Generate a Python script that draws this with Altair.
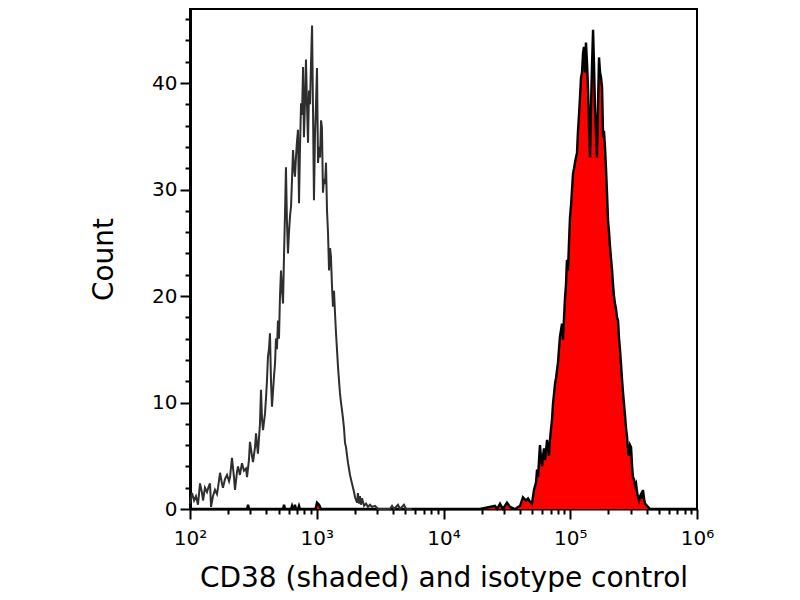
import altair as alt
import pandas as pd

# Isotype control histogram (log10 of fluorescence, count)
iso_log = [2.000, 2.016, 2.032, 2.047, 2.063, 2.079, 2.095, 2.103, 2.118, 2.134,
           2.150, 2.158, 2.166, 2.181, 2.197, 2.213, 2.221, 2.237, 2.252, 2.260,
           2.276, 2.292, 2.308, 2.316, 2.331, 2.347, 2.355, 2.371, 2.379, 2.394,
           2.410, 2.426, 2.442, 2.450, 2.465, 2.473, 2.489, 2.497, 2.513, 2.521,
           2.529, 2.536, 2.552, 2.560, 2.568, 2.576, 2.592, 2.600, 2.607, 2.615,
           2.623, 2.631, 2.639, 2.647, 2.663, 2.671, 2.678, 2.686, 2.694, 2.702,
           2.710, 2.718, 2.726, 2.734, 2.742, 2.750, 2.757, 2.765, 2.773, 2.781,
           2.789, 2.797, 2.805, 2.813, 2.821, 2.828, 2.836, 2.844, 2.852, 2.860,
           2.868, 2.876, 2.884, 2.892, 2.899, 2.907, 2.915, 2.923, 2.931, 2.939,
           2.947, 2.955, 2.963, 2.970, 2.978, 2.986, 2.994, 3.002, 3.010, 3.018,
           3.026, 3.034, 3.041, 3.049, 3.057, 3.065, 3.073, 3.081, 3.089, 3.097,
           3.105, 3.112, 3.120, 3.128, 3.136, 3.144, 3.152, 3.160, 3.168, 3.176,
           3.183, 3.191, 3.199, 3.207, 3.215, 3.223, 3.231, 3.239, 3.247, 3.254,
           3.262, 3.278, 3.294, 3.302, 3.318, 3.325, 3.333, 3.341, 3.349, 3.357,
           3.373, 3.389, 3.404, 3.420, 3.436, 3.460, 3.483, 3.578, 3.594, 3.610,
           3.641, 3.657, 3.688, 3.704, 3.750]
iso_count = [0.5, 1.5, 0.8, 1.2, 0.4, 2.4, 1.5, 0.8, 2.0, 1.6,
             2.2, 2.4, 0.2, 1.2, 1.8, 1.4, 2.0, 3.4, 2.4, 2.0,
             2.8, 3.2, 2.6, 3.0, 4.8, 3.0, 1.8, 3.5, 4.0, 3.2,
             4.3, 3.6, 3.8, 3.0, 4.6, 6.3, 5.0, 4.4, 5.8, 7.1,
             6.0, 5.2, 8.0, 11.2, 8.5, 7.4, 9.0, 10.5, 12.0, 14.3,
             15.0, 16.5, 12.0, 9.6, 12.5, 13.7, 16.0, 15.0, 17.7, 16.0,
             20.0, 22.4, 20.5, 19.3, 24.0, 28.0, 32.1, 27.0, 24.0, 26.0,
             27.5, 28.4, 31.0, 33.7, 32.0, 31.2, 33.0, 34.5, 35.6, 28.7,
             34.0, 38.1, 37.0, 41.5, 34.9, 38.0, 42.2, 38.0, 34.4, 39.3,
             38.0, 42.0, 45.4, 38.0, 29.0, 35.0, 38.0, 41.4, 32.5, 34.0,
             33.0, 36.5, 35.8, 29.7, 31.0, 30.5, 32.5, 28.0, 25.9, 22.4,
             24.5, 23.7, 21.0, 19.0, 20.5, 18.4, 16.5, 14.9, 13.3, 12.0,
             10.9, 10.0, 9.3, 8.5, 7.6, 6.2, 5.8, 5.0, 4.3, 3.8,
             3.2, 2.4, 1.6, 1.1, 0.6, 1.5, 0.5, 1.2, 0.4, 1.0,
             0.3, 0.5, 0.2, 0.4, 0.2, 0.3, 0.0, 0.0, 0.3, 0.0,
             0.4, 0.0, 0.4, 0.0, 0.0]

# CD38 stained histogram (log10 of fluorescence, count)
cd38_log = [2.000, 2.450, 2.458, 2.466, 2.734, 2.742, 2.750, 2.797, 2.805, 2.813,
            2.821, 2.828, 2.836, 2.852, 2.860, 2.868, 2.990, 3.002, 3.018, 3.034,
            4.288, 4.406, 4.422, 4.446, 4.469, 4.501, 4.525, 4.564, 4.604, 4.627,
            4.651, 4.667, 4.682, 4.698, 4.714, 4.730, 4.738, 4.746, 4.753, 4.761,
            4.769, 4.777, 4.785, 4.793, 4.801, 4.809, 4.817, 4.824, 4.832, 4.840,
            4.848, 4.856, 4.864, 4.872, 4.880, 4.888, 4.895, 4.903, 4.911, 4.919,
            4.927, 4.935, 4.943, 4.951, 4.959, 4.966, 4.974, 4.982, 4.990, 4.998,
            5.006, 5.014, 5.022, 5.030, 5.037, 5.045, 5.053, 5.061, 5.069, 5.077,
            5.085, 5.093, 5.101, 5.108, 5.116, 5.124, 5.132, 5.140, 5.148, 5.156,
            5.164, 5.172, 5.180, 5.187, 5.195, 5.203, 5.211, 5.219, 5.227, 5.235,
            5.243, 5.251, 5.259, 5.266, 5.274, 5.282, 5.290, 5.298, 5.306, 5.314,
            5.322, 5.330, 5.338, 5.345, 5.353, 5.361, 5.369, 5.377, 5.385, 5.393,
            5.401, 5.409, 5.416, 5.424, 5.432, 5.440, 5.448, 5.456, 5.464, 5.472,
            5.480, 5.488, 5.495, 5.503, 5.511, 5.519, 5.527, 5.535, 5.543, 5.551,
            5.559, 5.567, 5.574, 5.582, 5.590, 5.606, 5.629, 6.000]
cd38_count = [0.0, 0.0, 0.4, 0.0, 0.0, 0.4, 0.0, 0.0, 0.3, 0.0,
              0.0, 0.4, 0.0, 0.0, 0.3, 0.0, 0.0, 0.6, 0.4, 0.0,
              0.0, 0.3, 0.0, 0.5, 0.0, 0.6, 0.2, 0.0, 0.3, 1.1,
              0.8, 1.0, 0.7, 0.5, 1.8, 2.5, 3.7, 3.0, 4.5, 6.0,
              4.8, 4.0, 5.0, 5.7, 4.6, 5.5, 6.5, 5.8, 5.0, 6.5,
              7.5, 8.4, 9.9, 10.8, 11.8, 12.3, 13.0, 13.7, 15.0, 16.2,
              16.8, 17.4, 15.9, 18.0, 19.9, 21.0, 23.4, 22.4, 25.0, 27.4,
              28.5, 30.0, 31.5, 32.0, 32.5, 33.0, 33.4, 35.5, 37.0, 38.7,
              40.5, 41.0, 42.8, 43.4, 41.0, 43.8, 42.0, 39.6, 36.0, 33.0,
              38.0, 41.8, 45.0, 42.0, 37.8, 35.5, 33.0, 38.0, 42.4, 41.0,
              40.5, 39.6, 34.9, 35.5, 34.0, 32.0, 29.7, 27.1, 26.0, 24.6,
              23.5, 22.4, 21.0, 20.0, 19.3, 18.8, 18.0, 17.7, 16.0, 14.9,
              13.5, 12.1, 11.0, 9.9, 8.8, 7.6, 6.8, 5.5, 5.0, 6.0,
              5.8, 4.0, 3.0, 2.8, 2.2, 2.4, 1.6, 1.1, 0.8, 1.2,
              1.4, 1.0, 1.8, 1.0, 0.5, 0.3, 0.0, 0.0]

# Axis ticks
x_ticks = [100, 200, 300, 400, 500, 600, 700, 800, 900,
           1000, 2000, 3000, 4000, 5000, 6000, 7000, 8000, 9000,
           10000, 20000, 30000, 40000, 50000, 60000, 70000, 80000, 90000,
           100000, 200000, 300000, 400000, 500000, 600000, 700000, 800000, 900000,
           1000000]
y_major = [0, 10, 20, 30, 40]
y_minor = [2, 4, 6, 8, 12, 14, 16, 18, 22, 24, 26, 28,
           32, 34, 36, 38, 42, 44, 46]

iso_df = pd.DataFrame({"x": [10 ** v for v in iso_log], "count": iso_count})
cd38_df = pd.DataFrame({"x": [10 ** v for v in cd38_log], "count": cd38_count})

major_x = "indexof([100,1000,10000,100000,1000000], datum.value) >= 0"
x_label_expr = ("datum.value == 100 ? '10\u00b2' : datum.value == 1000 ? '10\u00b3' : "
                "datum.value == 10000 ? '10\u2074' : datum.value == 100000 ? '10\u2075' : "
                "datum.value == 1000000 ? '10\u2076' : ''")

x_scale = alt.Scale(type="log", domain=[100, 1000000], nice=False)
y_scale = alt.Scale(domain=[0, 46.95], nice=False, zero=True)

x_enc = alt.X(
    "x:Q",
    scale=x_scale,
    axis=alt.Axis(
        values=x_ticks,
        labelExpr=x_label_expr,
        tickSize={"condition": {"test": major_x, "value": 10}, "value": 5},
        labelFontSize={"condition": {"test": major_x, "value": 20}, "value": 1},
        labelPadding=9,
        titlePadding=16,
        labelFlush=False,
        labelOverlap=False,
        domainWidth=2,
    ),
    title="CD38 (shaded) and isotype control",
)

cd38 = alt.Chart(cd38_df).mark_area(
    color="#ff0000",
    opacity=1,
    fillOpacity=1,
    line={"color": "#000000", "strokeWidth": 2.4},
    interpolate="linear",
).encode(
    x=x_enc,
    y=alt.Y(
        "count:Q",
        scale=y_scale,
        axis=alt.Axis(
            values=y_major,
            orient="left",
            tickSize=10,
            labelPadding=3,
            titlePadding=33,
            labelFlush=False,
            labelOverlap=False,
            domainWidth=3,
        ),
        title="Count",
    ),
)

iso = alt.Chart(iso_df).mark_line(
    color="#2e2e2e", strokeWidth=2, interpolate="linear"
).encode(
    x="x:Q",
    y=alt.Y(
        "count:Q",
        scale=y_scale,
        axis=alt.Axis(
            values=y_minor,
            orient="left",
            tickSize=5,
            labels=False,
            domainWidth=3,
        ),
        title=None,
    ),
)

chart = alt.layer(cd38, iso).resolve_axis(y="independent").properties(
    width=507,
    height=500,
    padding={"left": 182, "top": 1, "right": 95, "bottom": 83},
    autosize=alt.AutoSizeParams(type="none"),
    background="white",
).configure_view(
    stroke="#000000", strokeWidth=2
).configure_axis(
    grid=False,
    domainColor="#000000",
    tickColor="#000000",
    tickWidth=2,
    labelFont="DejaVu Sans",
    labelFontSize=20,
    labelColor="#000000",
    titleFont="DejaVu Sans",
    titleFontSize=28,
    titleFontWeight="normal",
    titleColor="#000000",
)

chart.save("out.html", embed_options={"renderer": "svg", "actions": False})
